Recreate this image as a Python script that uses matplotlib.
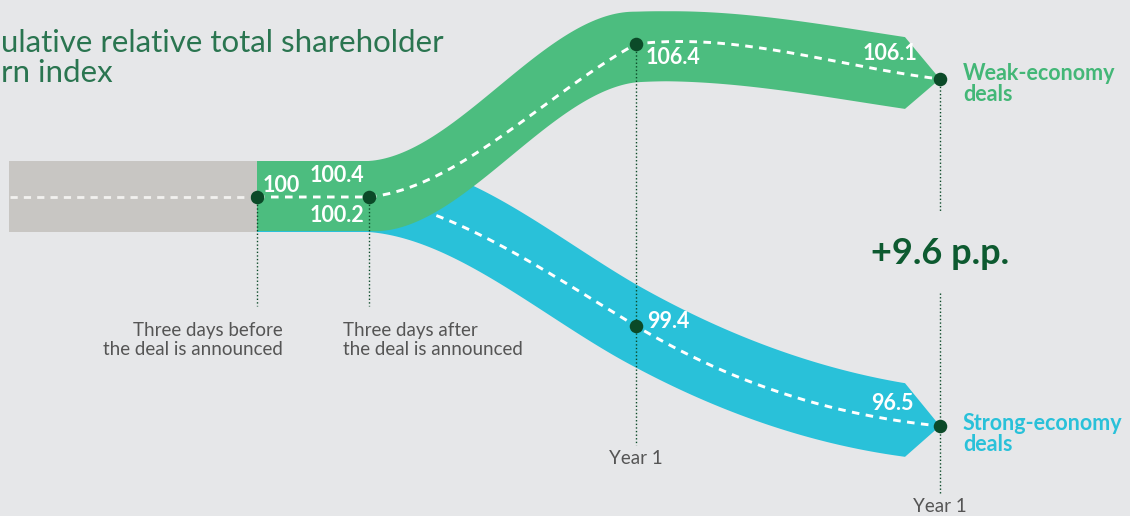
import matplotlib
matplotlib.use("Agg")
import matplotlib.pyplot as plt
import numpy as np

plt.rcParams['font.family'] = ['Lato', 'DejaVu Sans']

# values shown on the chart
stage_labels = ["Three days before\nthe deal is announced",
                "Three days after\nthe deal is announced",
                "Year 1", "Year 1"]
weak_values = [100, 100.4, 106.4, 106.1]
strong_values = [100, 100.2, 99.4, 96.5]
weak_name = "Weak-economy\ndeals"
strong_name = "Strong-economy\ndeals"
title = "ulative relative total shareholder\nrn index"

# schematic layout (canvas pixels, chart is not drawn to scale)
stage_x = [257, 369, 636, 940]
weak_y = [197, 197, 44, 79]
strong_y = [197, 197, 326, 426]
# slopes (in, out) at each knot for the dashed paths
weak_slopes = [(0, 0), (0, -0.1), (-0.55, -0.12), (0.12, 0)]
strong_slopes = [(0, 0), (0, 0.15), (0.6, 0.6), (0.1, 0)]
# band centre knots (x, y, slope)
weak_band = [(257, 196, 0), (369, 196, 0), (636, 47, -0.05), (905, 73, 0.15)]
strong_band = [(257, 197, 0), (369, 197, 0), (636, 326, 0.55), (905, 420, 0.15)]
half_w = 35

BG = "#e6e7e9"
GREEN = "#4cbd7f"
BLUE = "#29c1d9"
DOT = "#0b4a28"
GREY_BAND = "#c8c6c3"
TXT = "#555555"


def hermite(x0, y0, s0, x1, y1, s1, n=80):
    t = np.linspace(0, 1, n)
    h = x1 - x0
    y = ((2*t**3 - 3*t**2 + 1)*y0 + (t**3 - 2*t**2 + t)*h*s0
         + (-2*t**3 + 3*t**2)*y1 + (t**3 - t**2)*h*s1)
    return x0 + t*h, y


def path(xs, ys, slopes):
    px, py = [], []
    for i in range(len(xs) - 1):
        x, y = hermite(xs[i], ys[i], slopes[i][1], xs[i+1], ys[i+1], slopes[i+1][0])
        if i > 0:
            x, y = x[1:], y[1:]
        px.extend(x)
        py.extend(y)
    return np.array(px), np.array(py)


def band(ax, knots, tip, color, z, grow=0.0):
    xs_ = [k[0] for k in knots]
    ys_ = [k[1] for k in knots]
    sl_ = [(k[2], k[2]) for k in knots]
    px, py = path(xs_, ys_, sl_)
    # a little extra thickness where the ribbon is steep
    w = half_w + grow * np.abs(np.gradient(py, px))
    xs = np.concatenate([px, [tip[0]], px[::-1]])
    ys = np.concatenate([py - w, [tip[1]], (py + w)[::-1]])
    ax.fill(xs, ys, color=color, lw=0, zorder=z)


fig = plt.figure(figsize=(11.3, 5.16), dpi=100, facecolor=BG)
ax = fig.add_axes([0, 0, 1, 1])
ax.set_facecolor(BG)
ax.set_xlim(0, 1130)
ax.set_ylim(516, 0)
ax.axis('off')

# grey lead-in band
ax.fill_between([9, stage_x[0]], weak_y[0] - 36, weak_y[0] + 35, color=GREY_BAND, lw=0, zorder=1)
ax.plot([10, stage_x[0]], [weak_y[0], weak_y[0]], color="#f2f1ef", lw=2, dashes=(2.6, 2.2), zorder=2)

# strong band + path (under the green band)
band(ax, strong_band, (stage_x[-1], strong_y[-1]), BLUE, 3, grow=12)
sx, sy = path(stage_x[1:], strong_y[1:], strong_slopes[1:])
ax.plot(sx, sy, color="white", lw=2.1, dashes=(2.6, 2.2), zorder=4)

# weak band + path
band(ax, weak_band, (stage_x[-1], weak_y[-1]), GREEN, 5, grow=6)
wx, wy = path(stage_x, weak_y, weak_slopes)
ax.plot(wx, wy, color="white", lw=2.1, dashes=(2.6, 2.2), zorder=6)

# dotted guide lines
dot_kw = dict(color=DOT, lw=1, linestyle=(0, (1, 1.6)), zorder=7)
ax.plot([stage_x[0]] * 2, [weak_y[0], 306], **dot_kw)
ax.plot([stage_x[1]] * 2, [weak_y[1], 306], **dot_kw)
ax.plot([stage_x[2]] * 2, [weak_y[2], 445], **dot_kw)
ax.plot([stage_x[3]] * 2, [weak_y[3], 212], **dot_kw)
ax.plot([stage_x[3]] * 2, [293, 494], **dot_kw)

# points
ax.scatter(stage_x, weak_y, s=95, color=DOT, zorder=8, lw=0)
ax.scatter(stage_x[2:], strong_y[2:], s=95, color=DOT, zorder=8, lw=0)

# value labels
lab = dict(color="white", fontsize=15.5, fontweight='bold', zorder=9, va='center')
ax.text(263, 185, f"{weak_values[0]:g}", ha='left', **lab)
ax.text(337, 175, f"{weak_values[1]:.1f}", ha='center', **lab)
ax.text(337, 216, f"{strong_values[1]:.1f}", ha='center', **lab)
ax.text(673, 58, f"{weak_values[2]:.1f}", ha='center', **lab)
ax.text(890, 54, f"{weak_values[3]:.1f}", ha='center', **lab)
ax.text(668, 321, f"{strong_values[2]:.1f}", ha='center', **lab)
ax.text(892, 404, f"{strong_values[3]:.1f}", ha='center', **lab)

# series names
ax.text(963, 84, weak_name, color="#43b777", fontsize=15.5, fontweight='bold',
        ha='left', va='center', linespacing=1.0)
ax.text(963, 434, strong_name, color=BLUE, fontsize=15.5, fontweight='bold',
        ha='left', va='center', linespacing=1.0)

# gap
gap = weak_values[-1] - strong_values[-1]
ax.text(940, 254, f"+{gap:.1f} p.p.", color="#0d5a30", fontsize=26, fontweight='bold',
        ha='center', va='center')

# stage labels
small = dict(color=TXT, fontsize=13.5, fontweight='normal', linespacing=1.2)
ax.text(283, 340, stage_labels[0], ha='right', va='center', **small)
ax.text(343, 340, stage_labels[1], ha='left', va='center', **small)
ax.text(636, 459, stage_labels[2], ha='center', va='center', **small)
ax.text(940, 507, stage_labels[3], ha='center', va='center', **small)

# title (cut at the left edge as in the source)
ax.text(1, 58, title, color="#2a7550", fontsize=22.5, fontweight='normal',
        ha='left', va='center', linespacing=1.1)

fig.savefig("out.png", dpi=100, facecolor=BG)
